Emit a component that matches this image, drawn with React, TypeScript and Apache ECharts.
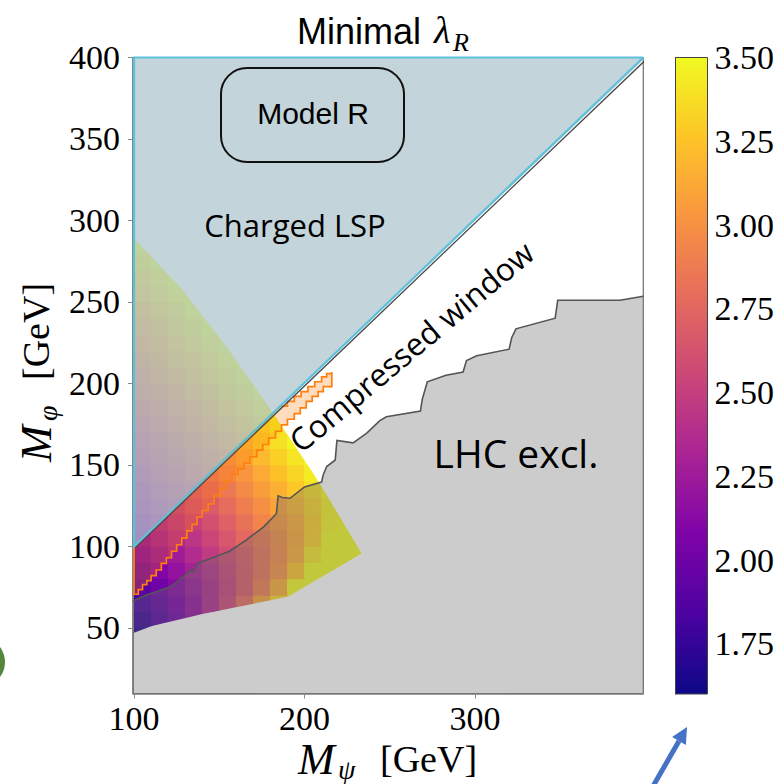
import React, { useEffect, useRef } from "react";
import * as echarts from "echarts";

// ---------- axes ----------
const X_MIN = 99.4;
const X_MAX = 398.7;
const Y_MIN = 9.7;
const Y_MAX = 400;
const xTicks = [100, 200, 300];
const yTicks = [50, 100, 150, 200, 250, 300, 350, 400];

// ---------- colour bar ----------
const cbMin = 1.6;
const cbMax = 3.5;
const cbTicks = [1.75, 2.0, 2.25, 2.5, 2.75, 3.0, 3.25, 3.5];
const plasmaColors = [
  "#0d0887", "#4c02a1", "#7e03a8", "#a92395", "#cc4778",
  "#e66c5c", "#f89540", "#fdc527", "#f0f921",
];

// ---------- minimal lambda_R grid (cell centres, 10 GeV cells) ----------
const cellSize = 10;
const gridX = [105, 115, 125, 135, 145, 155, 165, 175, 185, 195, 205, 215, 225, 235];
const gridY = [45, 55, 65, 75, 85, 95, 105, 115, 125, 135, 145, 155, 165, 175, 185, 195, 205, 215, 225, 235, 245, 255, 265, 275, 285];
const lambdaGrid: number[][] = [
  [1.68, 1.80],
  [1.76, 1.87, 2.01, 2.18, 2.35, 2.55],
  [1.83, 1.94, 2.06, 2.19, 2.36, 2.55, 2.79, 3.09, 3.35, 3.50],
  [1.91, 2.01, 2.12, 2.24, 2.37, 2.52, 2.69, 2.89, 3.14, 3.50, 3.50],
  [1.98, 2.09, 2.19, 2.30, 2.41, 2.54, 2.68, 2.83, 3.01, 3.26, 3.50, 3.50, 3.50],
  [2.06, 2.16, 2.26, 2.37, 2.47, 2.59, 2.70, 2.83, 2.97, 3.15, 3.41, 3.50, 3.50, 3.50],
  [2.14, 2.24, 2.34, 2.44, 2.54, 2.65, 2.76, 2.87, 2.99, 3.13, 3.31, 3.50, 3.50, 3.50],
  [2.21, 2.31, 2.41, 2.51, 2.61, 2.72, 2.82, 2.93, 3.04, 3.15, 3.30, 3.47, 3.50],
  [2.29, 2.39, 2.49, 2.59, 2.68, 2.79, 2.89, 2.99, 3.10, 3.21, 3.33, 3.46, 3.50],
  [2.36, 2.46, 2.56, 2.66, 2.76, 2.86, 2.96, 3.06, 3.16, 3.27, 3.38, 3.49],
  [2.44, 2.54, 2.64, 2.74, 2.84, 2.94, 3.03, 3.13, 3.24, 3.34, 3.44, 3.50],
  [2.52, 2.62, 2.71, 2.81, 2.91, 3.01, 3.11, 3.21, 3.31, 3.41, 3.50],
  [2.59, 2.69, 2.79, 2.89, 2.99, 3.09, 3.19, 3.29, 3.38, 3.48],
  [2.67, 2.77, 2.87, 2.97, 3.06, 3.16, 3.26, 3.36, 3.46, 3.50],
  [2.74, 2.84, 2.94, 3.04, 3.14, 3.24, 3.34, 3.44, 3.50],
  [2.82, 2.92, 3.02, 3.12, 3.22, 3.32, 3.41, 3.50],
  [2.90, 3.00, 3.09, 3.19, 3.29, 3.39, 3.49],
  [2.97, 3.07, 3.17, 3.27, 3.37, 3.47, 3.50],
  [3.05, 3.15, 3.25, 3.35, 3.44, 3.50],
  [3.12, 3.22, 3.32, 3.42, 3.50],
  [3.20, 3.30, 3.40, 3.50, 3.50],
  [3.28, 3.38, 3.47, 3.50],
  [3.35, 3.45, 3.50],
  [3.43, 3.50],
  [3.50],
];

// outline of the region where a solution exists (lambda below perturbative limit)
const heatRegion: number[][] = [
  [100, 47], [110, 51], [140, 58.5], [190, 69], [233.5, 95.6], [215, 128],
  [205, 145], [181.6, 181.6], [156, 220], [128, 258], [100, 289],
];

// charged LSP region (M_phi > M_psi)
const lspRegion: number[][] = [[100, 100], [400, 400], [100, 400]];

// LHC exclusion boundary
const lhcBoundary: number[][] = [
  [99.4, 66.5], [107, 70], [121, 75], [126, 79], [133, 85.5], [135, 84.5], [137, 89.5],
  [145, 92.5], [156, 97], [166, 104], [176, 112], [183.5, 120], [184.5, 131], [187, 130],
  [191.5, 129.5], [200, 136.5], [210, 139.5], [211, 144], [213, 149], [218, 153], [219, 165],
  [228.5, 163.5], [236.5, 169.5], [244, 177], [248, 179.5], [268, 183], [269, 190], [272, 201],
  [283, 205], [293, 207], [295, 214], [301, 217], [320, 221], [321.5, 228], [324, 233.5],
  [347, 240], [348.5, 251], [385, 251], [398.7, 253.5],
];

// orange (secondary constraint) region: lower staircase and upper edge
const orangeLower: number[][] = [
  [100, 70.6], [102.5, 73.5], [105, 76.5], [107.5, 79], [110, 82], [113, 85.5], [116, 89.5],
  [119, 93], [122, 97], [125, 101], [128, 105], [131, 109.5], [134, 113.5], [137, 118],
  [140, 122], [143.5, 126], [147, 131], [150.5, 135.5], [154, 140], [157.5, 144], [161, 147.5],
  [164.5, 151], [168, 155], [172, 159], [175.5, 162.5], [179, 166.5], [183, 170.5],
  [186.5, 174.5], [190, 178], [194, 181.5], [197.5, 185], [201, 189], [204.5, 192],
  [208, 195], [211, 198], [216, 207],
];
const orangeDiagStart = [100, 100];
const orangeTop: number[][] = [
  [186, 186], [190, 189], [194, 192], [198, 195], [202, 198], [206, 201], [210, 204],
  [213, 206], [216, 207],
];

function clipAxis(pts: number[][], axis: number, bound: number, keepGreater: boolean) {
  const out: number[][] = [];
  const n = pts.length;
  for (let i = 0; i < n; i++) {
    const a = pts[i];
    const b = pts[(i + 1) % n];
    const ina = keepGreater ? a[axis] >= bound : a[axis] <= bound;
    const inb = keepGreater ? b[axis] >= bound : b[axis] <= bound;
    if (ina) out.push(a);
    if (ina !== inb) {
      const t = (bound - a[axis]) / (b[axis] - a[axis]);
      out.push([a[0] + t * (b[0] - a[0]), a[1] + t * (b[1] - a[1])]);
    }
  }
  return out;
}

function stepExpand(pts: number[][]) {
  const out: number[][] = [];
  for (let i = 0; i < pts.length; i++) {
    out.push(pts[i]);
    if (i < pts.length - 1) out.push([pts[i + 1][0], pts[i][1]]);
  }
  return out;
}

const SERIF = '"Liberation Serif", "DejaVu Serif", serif';

function txt(x: number, y: number, text: string, font: string, align = "left", extra: any = {}) {
  return {
    type: "text",
    x,
    y,
    z: 100,
    silent: true,
    ...extra,
    style: {
      text,
      font,
      fill: "#000",
      align,
      verticalAlign: "middle",
      textAlign: align,
      textVerticalAlign: "middle",
    },
  };
}

export default function App() {
  const ref = useRef<HTMLDivElement>(null);

  useEffect(() => {
    if (!ref.current) return;
    const chart = echarts.init(ref.current, null, { renderer: "svg" });

    const cells: number[][] = [];
    lambdaGrid.forEach((row, r) => {
      row.forEach((v, c) => {
        cells.push([gridX[c], gridY[r], v]);
      });
    });

    const tickLabel = { color: "#000", fontFamily: SERIF, fontSize: 34 };

    const polyRender = (points: () => number[][], style: any) => (params: any, api: any) => ({
      type: "polygon",
      shape: { points: points().map((p) => api.coord(p)) },
      style,
    });
    const lineRender = (points: () => number[][], style: any) => (params: any, api: any) => ({
      type: "polyline",
      shape: { points: points().map((p) => api.coord(p)) },
      style: { fill: null, ...style },
    });

    const single = [[200, 200]];

    const option: any = {
      animation: false,
      backgroundColor: "#ffffff",
      grid: [
        {
          left: 133, top: 57.5, width: 510.3, height: 636,
          show: true, borderColor: "#6f6f6f", borderWidth: 1.2, backgroundColor: "transparent",
        },
        { left: 675.5, top: 57.5, width: 32, height: 636.5, show: false },
      ],
      xAxis: [
        {
          type: "value", gridIndex: 0, min: X_MIN, max: X_MAX,
          axisLine: { show: true, onZero: false, lineStyle: { color: "#7a7a7a", width: 1.5 } },
          axisTick: { show: true, customValues: xTicks, length: 5, lineStyle: { color: "#8a8a8a", width: 1 } },
          axisLabel: { customValues: xTicks, margin: 8, ...tickLabel },
          splitLine: { show: false },
        },
        { type: "value", gridIndex: 1, min: 0, max: 1, show: false },
      ],
      yAxis: [
        {
          type: "value", gridIndex: 0, min: Y_MIN, max: Y_MAX,
          axisLine: { show: true, onZero: false, lineStyle: { color: "#7a7a7a", width: 1.5 } },
          axisTick: { show: true, customValues: yTicks, length: 5, lineStyle: { color: "#8a8a8a", width: 1 } },
          axisLabel: { customValues: yTicks, margin: 13, showMaxLabel: true, ...tickLabel },
          splitLine: { show: false },
        },
        {
          type: "value", gridIndex: 1, min: cbMin, max: cbMax, position: "right",
          axisLine: { show: true, lineStyle: { color: "#333", width: 1 } },
          axisTick: { show: true, customValues: cbTicks, length: 4, lineStyle: { color: "#333", width: 1 } },
          axisLabel: {
            customValues: cbTicks, margin: 7, showMaxLabel: true,
            formatter: (v: number) => v.toFixed(2), ...tickLabel,
          },
          splitLine: { show: false },
        },
      ],
      visualMap: {
        type: "continuous", show: false, min: cbMin, max: cbMax, dimension: 2, seriesIndex: 0,
        inRange: { color: plasmaColors },
      },
      series: [
        {
          type: "custom", name: "lambda", xAxisIndex: 0, yAxisIndex: 0, z: 1, clip: true, silent: true,
          data: cells, encode: { x: 0, y: 1 },
          renderItem: (params: any, api: any) => {
            const x = api.value(0);
            const y = api.value(1);
            const a = api.coord([x - cellSize / 2, y + cellSize / 2]);
            const b = api.coord([x + cellSize / 2, y - cellSize / 2]);
            let pts = heatRegion.map((p) => api.coord(p));
            pts = clipAxis(pts, 0, a[0] - 0.4, true);
            if (pts.length) pts = clipAxis(pts, 0, b[0] + 0.4, false);
            if (pts.length) pts = clipAxis(pts, 1, a[1] - 0.4, true);
            if (pts.length) pts = clipAxis(pts, 1, b[1] + 0.4, false);
            if (pts.length < 3) return { type: "group", children: [] };
            return { type: "polygon", shape: { points: pts }, style: { fill: api.visual("color"), stroke: null } };
          },
        },
        {
          type: "custom", name: "lsp", z: 2, clip: true, silent: true, data: single, encode: { x: 0, y: 1 },
          renderItem: polyRender(() => lspRegion, { fill: "rgba(172,195,204,0.72)", stroke: null }),
        },
        {
          type: "custom", name: "lhc", z: 2, clip: true, silent: true, data: single, encode: { x: 0, y: 1 },
          renderItem: polyRender(
            () => lhcBoundary.concat([[X_MAX + 1, Y_MIN - 1], [X_MIN - 1, Y_MIN - 1]]),
            { fill: "rgba(109,109,109,0.35)", stroke: null }
          ),
        },
        {
          type: "custom", name: "orange", z: 3, clip: true, silent: true, data: single, encode: { x: 0, y: 1 },
          renderItem: polyRender(
            () => stepExpand(orangeLower).concat([orangeDiagStart].concat(stepExpand(orangeTop)).reverse()),
            { fill: "rgba(255,127,14,0.27)", stroke: "#ff7f0e", lineWidth: 1.7, lineJoin: "miter" }
          ),
        },
        {
          type: "custom", name: "lhcLine", z: 4, clip: true, silent: true, data: single, encode: { x: 0, y: 1 },
          renderItem: lineRender(() => lhcBoundary, { stroke: "#555555", lineWidth: 1.6 }),
        },
        {
          type: "custom", name: "diagDark", z: 5, clip: true, silent: true, data: single, encode: { x: 0, y: 1 },
          renderItem: (params: any, api: any) => {
            const p0 = api.coord(lspRegion[0]);
            const p1 = api.coord(lspRegion[1]);
            return {
              type: "polyline",
              shape: { points: [[p0[0] + 1.3, p0[1] + 1.3], [p1[0] + 1.3, p1[1] + 1.3]] },
              style: { fill: null, stroke: "#4a4a4a", lineWidth: 1.3 },
            };
          },
        },
        {
          type: "custom", name: "lspEdge", z: 6, clip: false, silent: true, data: single, encode: { x: 0, y: 1 },
          renderItem: (params: any, api: any) => {
            const pts = lspRegion.map((p) => api.coord(p));
            const top = api.coord([X_MAX, Y_MAX]);
            return {
              type: "polyline",
              shape: { points: [top, pts[2], pts[0], top] },
              style: { fill: null, stroke: "#5ec1dc", lineWidth: 2.2 },
            };
          },
        },
        {
          type: "custom", name: "colorbar", xAxisIndex: 1, yAxisIndex: 1, z: 2, silent: true,
          data: [[0.5, 2.5]], encode: { x: 0, y: 1 },
          renderItem: (params: any, api: any) => {
            const p0 = api.coord([0, cbMax]);
            const p1 = api.coord([1, cbMin]);
            return {
              type: "rect",
              shape: { x: p0[0], y: p0[1], width: p1[0] - p0[0], height: p1[1] - p0[1] },
              style: {
                fill: {
                  type: "linear", x: 0, y: 1, x2: 0, y2: 0,
                  colorStops: plasmaColors.map((c, i) => ({ offset: i / (plasmaColors.length - 1), color: c })),
                },
                stroke: "#444", lineWidth: 1,
              },
            };
          },
        },
      ],
      graphic: [
        // title
        txt(297, 31, "Minimal", '36px "Liberation Sans", Arial, sans-serif'),
        txt(434, 30, "λ", `italic 38px ${SERIF}`),
        txt(453, 42, "R", `italic 26px ${SERIF}`),
        // x axis name
        txt(298, 759, "M", `italic 44px ${SERIF}`),
        txt(338, 769, "ψ", `italic 28px ${SERIF}`),
        txt(380, 759, "[GeV]", `38px ${SERIF}`),
        // y axis name
        {
          type: "group", x: 36, y: 375, rotation: Math.PI / 2, z: 100, silent: true,
          children: [
            txt(-87, 0, "M", `italic 44px ${SERIF}`),
            txt(-46, 11, "φ", `italic 28px ${SERIF}`),
            txt(-5, 0, "[GeV]", `38px ${SERIF}`),
          ],
        },
        // annotations
        {
          type: "rect", z: 100, silent: true,
          shape: { x: 221, y: 68, width: 183, height: 94, r: 26 },
          style: { fill: "rgba(0,0,0,0)", stroke: "#111", lineWidth: 2 },
        },
        txt(313, 113, "Model R", '30px "Liberation Sans", Arial, sans-serif', "center"),
        txt(295, 225, "Charged LSP", '31px "Open Sans", sans-serif', "center"),
        txt(411, 346, "Compressed window", '31.5px "Open Sans", sans-serif', "center", { rotation: (40 * Math.PI) / 180 }),
        txt(516, 452, "LHC excl.", '39px "Open Sans", sans-serif', "center"),
        // decorations from the slide
        { type: "circle", z: 100, silent: true, shape: { cx: -20, cy: 662, r: 25 }, style: { fill: "#55863c" } },
        { type: "line", z: 100, silent: true, shape: { x1: 652, y1: 788, x2: 679, y2: 741 }, style: { stroke: "#4472c4", lineWidth: 5 } },
        {
          type: "polygon", z: 100, silent: true,
          shape: { points: [[687, 727], [685.9, 744.9], [672.1, 736.9]] },
          style: { fill: "#4472c4" },
        },
      ],
    };

    chart.setOption(option);
    return () => chart.dispose();
  }, []);

  return (
    <div
      ref={ref}
      style={{ position: "fixed", left: 0, top: 0, width: 783, height: 784, background: "#fff" }}
    />
  );
}
